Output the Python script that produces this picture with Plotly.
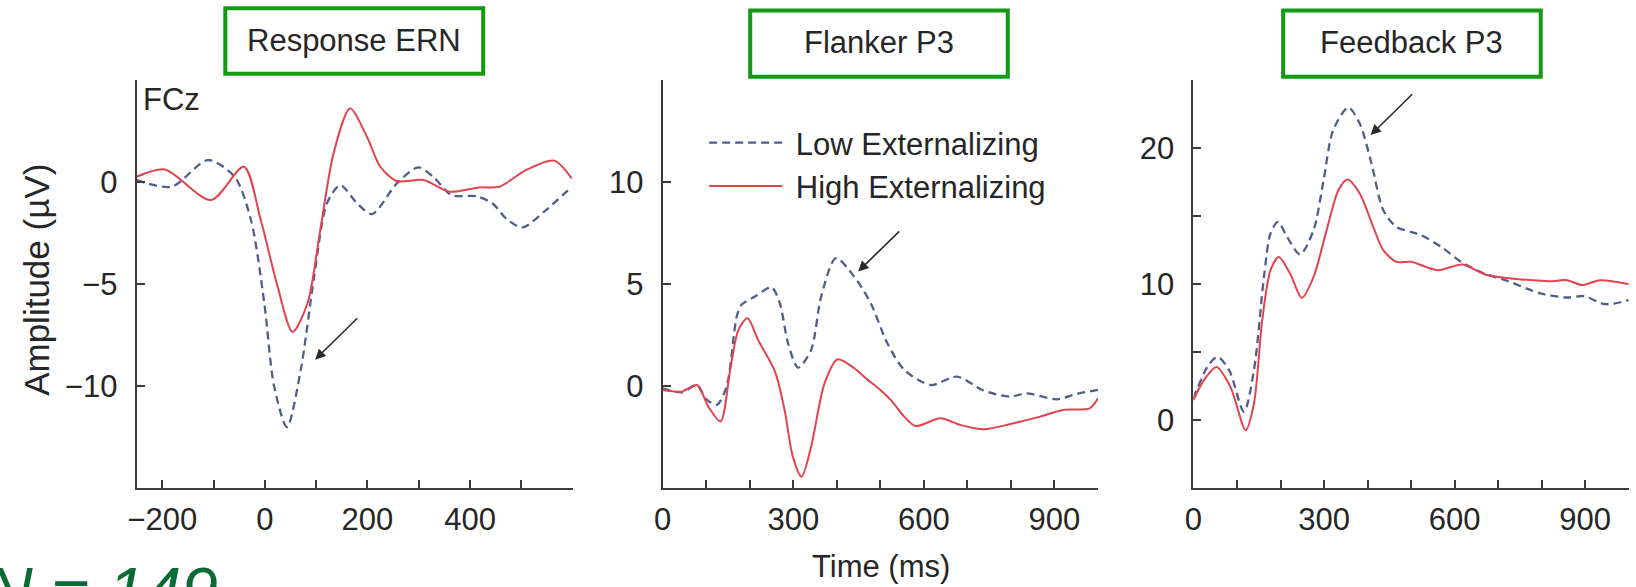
import plotly.graph_objects as go

W, H = 1636, 587

# ---------------- data ----------------
ern_low_t = [-250, -182, -111, -59, -27, -1, 18, 43, 70, 96, 121, 147, 180, 209, 257, 299, 328, 364, 412, 444, 470, 502, 548, 598]
ern_low_v = [0.1, -0.23, 1.08, 0.26, -1.86, -5.95, -10.0, -12.0, -9.2, -4.64, -1.05, -0.15, -1.05, -1.57, -0.07, 0.72, 0.26, -0.64, -0.69, -1.05, -1.78, -2.22, -1.37, -0.23]
ern_high_t = [-250, -195, -105, -41, -8, 25, 54, 83, 108, 134, 166, 199, 225, 257, 309, 360, 418, 457, 509, 564, 598]
ern_high_v = [0.26, 0.62, -0.88, 0.75, -1.86, -5.13, -7.34, -5.95, -2.35, 1.41, 3.61, 2.22, 0.75, 0.05, 0.1, -0.47, -0.26, -0.23, 0.59, 1.05, 0.18]

flk_low_t = [0, 44, 79, 98, 124, 147, 170, 181, 212, 250, 269, 288, 311, 341, 364, 398, 440, 478, 516, 555, 616, 676, 737, 798, 836, 905, 950, 1000]
flk_low_v = [-0.1, -0.3, 0.06, -0.59, -0.92, 0.0, 3.41, 3.99, 4.39, 4.85, 4.07, 2.11, 0.91, 1.78, 4.39, 6.27, 5.37, 4.07, 2.11, 0.8, 0.06, 0.47, -0.21, -0.51, -0.35, -0.64, -0.38, -0.18]
flk_high_t = [0, 44, 79, 105, 133, 155, 174, 195, 219, 258, 280, 299, 319, 341, 372, 402, 440, 471, 490, 524, 555, 581, 638, 684, 737, 806, 867, 920, 981, 1000]
flk_high_v = [-0.18, -0.26, 0.06, -1.0, -1.73, 0.8, 2.76, 3.33, 2.27, 0.72, -1.16, -3.45, -4.43, -2.96, 0.15, 1.32, 0.88, 0.31, 0.0, -0.67, -1.49, -1.95, -1.57, -1.9, -2.11, -1.81, -1.49, -1.16, -1.08, -0.59]

fb_low_t = [0, 32, 55, 82, 116, 139, 162, 177, 194, 215, 245, 276, 299, 321, 356, 382, 409, 436, 466, 500, 523, 569, 615, 668, 721, 797, 858, 897, 946, 1000]
fb_low_v = [1.6, 3.92, 4.66, 3.68, 0.62, 3.68, 10.54, 13.72, 14.58, 13.48, 12.18, 13.97, 17.64, 21.32, 22.98, 21.8, 18.87, 15.44, 14.21, 13.84, 13.6, 12.74, 11.64, 10.78, 10.24, 9.32, 9.02, 9.12, 8.53, 8.82]
fb_high_t = [0, 24, 53, 85, 120, 139, 158, 177, 196, 222, 249, 276, 306, 333, 354, 382, 413, 436, 466, 500, 561, 618, 668, 729, 782, 820, 858, 893, 934, 1000]
fb_high_v = [1.48, 2.95, 3.92, 2.45, -0.73, 1.23, 7.35, 11.03, 12.0, 10.78, 9.0, 10.54, 13.97, 16.9, 17.69, 16.66, 14.21, 12.5, 11.64, 11.64, 11.03, 11.45, 10.73, 10.42, 10.29, 10.22, 10.29, 9.93, 10.29, 10.0]

series_names = ["Low Externalizing", "High Externalizing"]
panel_titles = ["Response ERN", "Flanker P3", "Feedback P3"]

x_ranges = [[-250, 600], [0, 1000], [0, 1000]]
y_ranges = [[-15, 5], [-5, 15], [-5, 25]]
x_tickvals = [[-200, -100, 0, 100, 200, 300, 400, 500, 600],
              list(range(0, 1001, 100)), list(range(0, 1001, 100))]
x_ticktext = [["\u2212200", "", "0", "", "200", "", "400", "", ""],
              ["0", "", "", "300", "", "", "600", "", "", "900", ""],
              ["0", "", "", "300", "", "", "600", "", "", "900", ""]]
y_tickvals = [[-10, -5, 0, 5], [0, 5, 10, 15], [0, 5, 10, 15, 20, 25]]
y_ticktext = [["\u221210", "\u22125", "0", ""], ["0", "5", "10", ""], ["0", "", "10", "", "20", ""]]

# arrows: (tail_x, tail_y, head_x, head_y) in data units
arrows = [(183, -6.6, 98, -8.7), (547, 7.66, 449, 5.62), (506, 24.06, 407, 20.95)]

# ---------------- style ----------------
FONT = "Liberation Sans, Arial, Helvetica, sans-serif"
BLUE = "#525d8c"
RED = "#e2434e"
AX = "#3c3c3c"
TXT = "#262626"
GREEN = "#139a13"


def fx(px):
    return px / W


def fy(py):
    return 1 - py / H


x_domains = [[fx(128.3), fx(566.8)], [fx(657.3), fx(1095.0)], [fx(1191.0), fx(1628.7)]]
y_domain = [fy(488.3), fy(80.0)]

data_sets = [
    (ern_low_t, ern_low_v, ern_high_t, ern_high_v),
    (flk_low_t, flk_low_v, flk_high_t, flk_high_v),
    (fb_low_t, fb_low_v, fb_high_t, fb_high_v),
]

fig = go.Figure()
for i, (lt, lv, ht, hv) in enumerate(data_sets):
    xa = "x" if i == 0 else f"x{i+1}"
    ya = "y" if i == 0 else f"y{i+1}"
    fig.add_trace(go.Scatter(x=lt, y=lv, mode="lines", name="\u00a0" + series_names[0],
                             line=dict(color=BLUE, width=2.3, dash="8px,5px", shape="spline", smoothing=0.8),
                             xaxis=xa, yaxis=ya, showlegend=(i == 1), legendrank=1))
    fig.add_trace(go.Scatter(x=ht, y=hv, mode="lines", name="\u00a0" + series_names[1],
                             line=dict(color=RED, width=2.0, shape="spline", smoothing=0.8),
                             xaxis=xa, yaxis=ya, showlegend=(i == 1), legendrank=2))

layout = dict(
    width=W, height=H,
    margin=dict(l=0, r=0, t=0, b=0),
    paper_bgcolor="white", plot_bgcolor="white",
    font=dict(family=FONT, color=TXT),
    legend=dict(x=fx(699), y=fy(116), xanchor="left", yanchor="top",
                font=dict(size=31, family=FONT, color=TXT), itemwidth=73,
                bgcolor="rgba(0,0,0,0)", borderwidth=0, tracegroupgap=0),
)

for i in range(3):
    xk = "xaxis" if i == 0 else f"xaxis{i+1}"
    yk = "yaxis" if i == 0 else f"yaxis{i+1}"
    ya = "y" if i == 0 else f"y{i+1}"
    xa = "x" if i == 0 else f"x{i+1}"
    layout[xk] = dict(domain=x_domains[i], range=x_ranges[i], anchor=ya,
                      showline=True, linecolor=AX, linewidth=2, showgrid=False, zeroline=False,
                      ticks="inside", ticklen=8, tickwidth=1.6, tickcolor=AX,
                      tickmode="array", tickvals=x_tickvals[i], ticktext=x_ticktext[i],
                      tickfont=dict(size=31, family=FONT, color=TXT), ticklabelstandoff=2,
                      fixedrange=True)
    layout[yk] = dict(domain=y_domain, range=y_ranges[i], anchor=xa,
                      showline=True, linecolor=AX, linewidth=2, showgrid=False, zeroline=False,
                      ticks="inside", ticklen=8, tickwidth=1.6, tickcolor=AX,
                      tickmode="array", tickvals=y_tickvals[i], ticktext=y_ticktext[i],
                      tickfont=dict(size=31, family=FONT, color=TXT), ticklabelstandoff=11,
                      fixedrange=True)

fig.update_layout(**layout)

# title boxes
boxes = [(217.5, 8.2, 476.8, 73.8), (745.3, 10.5, 1004.3, 76.8), (1281.2, 10.5, 1540.2, 76.8)]
for (x0, y0, x1, y1), title in zip(boxes, panel_titles):
    fig.add_shape(type="rect", xref="paper", yref="paper",
                  x0=fx(x0), x1=fx(x1), y0=fy(y1), y1=fy(y0),
                  line=dict(color=GREEN, width=4), fillcolor="rgba(0,0,0,0)")
    fig.add_annotation(xref="paper", yref="paper", x=fx((x0 + x1) / 2), y=fy((y0 + y1) / 2 - 1),
                       text=title, showarrow=False, xanchor="center", yanchor="middle",
                       font=dict(size=31, family=FONT, color=TXT))

# arrows
for i, (tx, ty, hx, hy) in enumerate(arrows):
    xa = "x" if i == 0 else f"x{i+1}"
    ya = "y" if i == 0 else f"y{i+1}"
    fig.add_annotation(x=hx, y=hy, ax=tx, ay=ty, xref=xa, yref=ya, axref=xa, ayref=ya,
                       text="", showarrow=True, arrowhead=2, arrowsize=1.3, arrowwidth=1.6,
                       arrowcolor="#2a2a2a", standoff=0)

# other texts
fig.add_annotation(xref="paper", yref="paper", x=fx(133), y=fy(99), text="FCz", showarrow=False,
                   xanchor="left", yanchor="middle", font=dict(size=31, family=FONT, color=TXT))
fig.add_annotation(xref="paper", yref="paper", x=fx(28), y=fy(280), text="Amplitude (\u00b5V)",
                   showarrow=False, textangle=-90, xanchor="center", yanchor="middle",
                   font=dict(size=35, family=FONT, color=TXT))
fig.add_annotation(xref="paper", yref="paper", x=fx(877), y=fy(566), text="Time (ms)",
                   showarrow=False, xanchor="center", yanchor="middle",
                   font=dict(size=31, family=FONT, color=TXT))
fig.add_annotation(xref="paper", yref="paper", x=fx(-26), y=fy(591), text="<i>N = 149</i>",
                   showarrow=False, xanchor="left", yanchor="middle",
                   font=dict(size=66, family=FONT, color="#0b6b35"))

# remove the default 8px page margin so the figure fills the window exactly
fig.write_html("out.html", config={"displayModeBar": False},
               post_script="document.body.style.margin='0';")
